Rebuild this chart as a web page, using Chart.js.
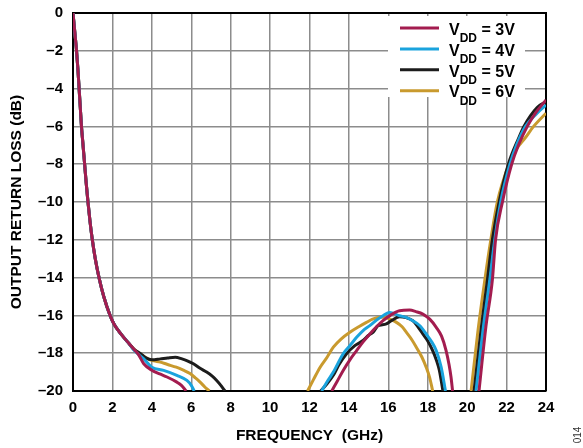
<!DOCTYPE html>
<html><head><meta charset="utf-8">
<script src="https://cdn.jsdelivr.net/npm/chart.js@4.4.1/dist/chart.umd.min.js"></script>
<style>html,body{margin:0;padding:0;background:#fff;}</style>
</head><body>
<canvas id="c" width="583" height="448"></canvas>
<script>
// ---- data (frequency GHz, return loss dB); [f, null] marks a gap (curve below -20 dB) ----
const seriesNames = ['3V', '4V', '5V', '6V'];
const seriesColors = ['#a31c4f', '#1aa3dd', '#1c1c1c', '#c99a2e'];
const xTickValues = [0, 2, 4, 6, 8, 10, 12, 14, 16, 18, 20, 22, 24];
const yTickValues = [0, -2, -4, -6, -8, -10, -12, -14, -16, -18, -20];

const lowBand = [[0,0],[0.1,-1.1],[0.18,-2],[0.25,-3],[0.31,-4],[0.37,-5],[0.43,-6],[0.51,-7],[0.59,-8],[0.67,-9],[0.76,-10],[0.86,-11],[0.98,-12],[1.13,-13],[1.32,-14],[1.56,-15],[1.88,-16],[2.1,-16.5],[2.45,-17],[2.85,-17.5]];

const vdd3V = [[3.1,-17.8],[3.31,-18.05],[3.59,-18.56],[4.0,-18.9],[4.4,-19.1],[4.77,-19.26],[5.27,-19.53],[5.5,-19.7],[5.74,-20],[9,null],
  [13.13,-20],[13.4,-19.5],[13.71,-18.91],[14.05,-18.35],[14.39,-17.86],[14.72,-17.4],[15.06,-16.98],[15.4,-16.6],[15.73,-16.28],[16.1,-16.0],[16.57,-15.75],[17.08,-15.72],[17.4,-15.8],[17.75,-15.93],[18.1,-16.2],[18.43,-16.63],[18.7,-17.1],[18.93,-17.86],[19.08,-18.6],[19.18,-19.26],[19.26,-20],[19.9,null],
  [20.6,-20],[20.95,-16.6],[21.28,-14.1],[21.44,-12],[21.79,-10],[22.26,-8],[22.6,-7],[23.05,-6],[23.5,-5.25],[24,-4.6]];

const vdd4V = [[3.1,-17.85],[3.59,-18.3],[4.0,-18.74],[4.6,-18.91],[5.27,-19.17],[5.78,-19.44],[6.0,-19.7],[6.15,-20],[9,null],
  [12.62,-20],[12.9,-19.5],[13.21,-19.0],[13.71,-18.03],[14.05,-17.6],[14.39,-17.16],[14.72,-16.8],[15.06,-16.54],[15.4,-16.25],[15.73,-16.02],[16.07,-15.84],[16.57,-16.02],[16.9,-16.1],[17.24,-16.28],[17.6,-16.55],[17.92,-16.98],[18.2,-17.4],[18.43,-17.86],[18.68,-18.74],[18.9,-20],[19.9,null],
  [20.45,-20],[20.8,-16.8],[21.15,-14.1],[21.4,-12],[21.7,-10],[22.17,-8],[22.5,-7],[22.96,-6],[23.5,-5.35],[24,-4.87]];

const vdd5V = [[3.1,-17.8],[3.43,-18.03],[3.7,-18.25],[4.0,-18.35],[4.43,-18.3],[4.8,-18.25],[5.19,-18.21],[5.53,-18.3],[5.8,-18.4],[6.11,-18.56],[6.45,-18.8],[6.78,-19.0],[7.05,-19.2],[7.29,-19.44],[7.5,-19.7],[7.71,-20],[9,null],
  [12.57,-20],[12.9,-19.6],[13.21,-19.17],[13.5,-18.6],[13.88,-18.03],[14.3,-17.6],[14.72,-17.33],[15.0,-17.05],[15.23,-16.89],[15.48,-16.54],[15.7,-16.5],[15.9,-16.45],[16.2,-16.25],[16.57,-16.07],[16.9,-16.12],[17.24,-16.28],[17.5,-16.6],[17.75,-16.98],[18.0,-17.35],[18.25,-17.86],[18.45,-18.4],[18.59,-18.91],[18.77,-20],[19.9,null],
  [20.35,-20],[20.7,-16.8],[21.03,-14.1],[21.28,-12],[21.62,-10],[22.09,-8],[22.62,-6.6],[22.88,-6],[23.55,-5.0],[24,-4.7]];

const vdd6V = [[3.1,-17.8],[3.43,-18.05],[3.8,-18.3],[4.1,-18.4],[4.43,-18.47],[4.8,-18.6],[5.24,-18.74],[5.6,-18.9],[5.94,-19.08],[6.2,-19.3],[6.45,-19.53],[6.7,-19.8],[6.92,-20],[9,null],
  [11.9,-20],[12.2,-19.4],[12.54,-18.74],[12.9,-18.2],[13.21,-17.68],[13.6,-17.25],[14.05,-16.89],[14.5,-16.6],[14.89,-16.37],[15.2,-16.2],[15.57,-16.1],[15.85,-16.1],[16.07,-16.2],[16.41,-16.37],[16.7,-16.6],[16.91,-16.89],[17.2,-17.3],[17.42,-17.68],[17.7,-18.2],[17.92,-18.74],[18.1,-19.3],[18.25,-20],[19.5,null],
  [20.2,-20],[20.55,-16.8],[20.9,-14.1],[21.2,-12],[21.53,-10],[22.12,-8],[22.5,-7.2],[22.95,-6.6],[23.37,-6],[24,-5.3]];

const seriesData = [vdd3V, vdd4V, vdd5V, vdd6V];

// ---- chart ----
const FONT = '"Liberation Sans", Arial, Helvetica, sans-serif';
Chart.defaults.font.family = FONT;
Chart.defaults.color = '#000';

const toPts = arr => lowBand.concat(arr).map(p => ({x: p[0], y: p[1]}));

const framePlugin = {
  id: 'frame',
  beforeDatasetsDraw(chart) {
    const {ctx, chartArea: a} = chart;
    ctx.save();
    ctx.strokeStyle = '#000';
    ctx.lineWidth = 2;
    ctx.beginPath();
    ctx.moveTo(a.left, a.top); ctx.lineTo(a.right, a.top); ctx.lineTo(a.right, a.bottom);
    ctx.stroke();
    ctx.restore();
  }
};

const legendPlugin = {
  id: 'vddLegend',
  afterDatasetsDraw(chart) {
    const {ctx, chartArea: a} = chart;
    const boxR = a.right - 21, boxL = boxR - 137, boxT = a.top + 3, boxB = a.top + 84;
    ctx.save();
    ctx.fillStyle = '#fff';
    ctx.fillRect(boxL, boxT, boxR - boxL, boxB - boxT);
    chart.data.datasets.forEach((ds, i) => {
      const cy = a.top + 15 + i * 20.9;
      ctx.strokeStyle = ds.borderColor;
      ctx.lineWidth = 3;
      ctx.beginPath(); ctx.moveTo(boxL + 12, cy); ctx.lineTo(boxL + 51, cy); ctx.stroke();
      ctx.fillStyle = '#000';
      ctx.textAlign = 'left';
      ctx.textBaseline = 'alphabetic';
      let x = boxL + 61;
      ctx.font = 'bold 16px ' + FONT;
      ctx.fillText('V', x, cy + 6.7); x += ctx.measureText('V').width;
      ctx.font = 'bold 12px ' + FONT;
      ctx.fillText('DD', x, cy + 14.3); x += ctx.measureText('DD').width;
      ctx.font = 'bold 16px ' + FONT;
      ctx.fillText(' = ' + seriesNames[i], x, cy + 6.7);
    });
    ctx.restore();
  }
};

const notePlugin = {
  id: 'note',
  afterDraw(chart) {
    const ctx = chart.ctx;
    ctx.save();
    ctx.translate(578, 435);
    ctx.rotate(-Math.PI / 2);
    ctx.font = '10px ' + FONT;
    ctx.fillStyle = '#333';
    ctx.textAlign = 'center';
    ctx.textBaseline = 'middle';
    ctx.fillText('014', 0, 0);
    ctx.restore();
  }
};

const zeroPad = s => { s.paddingTop = 0; s.paddingBottom = 0; s.paddingLeft = 0; s.paddingRight = 0; };

new Chart(document.getElementById('c'), {
  type: 'line',
  data: {
    datasets: seriesData.map((arr, i) => ({
      label: 'VDD = ' + seriesNames[i],
      data: toPts(arr),
      borderColor: seriesColors[i],
      backgroundColor: seriesColors[i],
      borderWidth: 3,
      pointRadius: 0,
      cubicInterpolationMode: 'monotone',
      spanGaps: false,
      clip: 0
    }))
  },
  options: {
    responsive: false,
    animation: false,
    devicePixelRatio: 1,
    layout: { padding: { left: 0, right: 37, top: 13, bottom: 0 } },
    plugins: { legend: { display: false }, tooltip: { enabled: false } },
    scales: {
      x: {
        type: 'linear', min: 0, max: 24,
        afterBuildTicks: s => { s.ticks = xTickValues.map(v => ({value: v})); },
        afterFit: s => { s.height = 57; zeroPad(s); },
        grid: { color: '#8c8c8c', lineWidth: 1.5, drawTicks: false },
        border: { color: '#000', width: 2 },
        ticks: { padding: 8, font: { size: 15, weight: 'bold' }, maxRotation: 0,
                 callback: v => String(v) },
        title: { display: true, text: 'FREQUENCY  (GHz)', font: { size: 15.5, weight: 'bold' },
                 padding: { top: 0, bottom: 2.7 } }
      },
      y: {
        type: 'linear', min: -20, max: 0,
        afterBuildTicks: s => { s.ticks = yTickValues.map(v => ({value: v})); },
        afterFit: s => { s.width = 73; zeroPad(s); },
        grid: { color: '#8c8c8c', lineWidth: 1.5, drawTicks: false },
        border: { color: '#000', width: 2 },
        ticks: { padding: 10, font: { size: 15, weight: 'bold' },
                 callback: v => v < 0 ? '\u2013' + Math.abs(v) : String(v) },
        title: { display: true, text: 'OUTPUT RETURN LOSS (dB)', font: { size: 15.5, weight: 'bold' },
                 padding: { top: 7.7, bottom: 0 } }
      }
    }
  },
  plugins: [framePlugin, legendPlugin, notePlugin]
});
</script>
</body></html>
